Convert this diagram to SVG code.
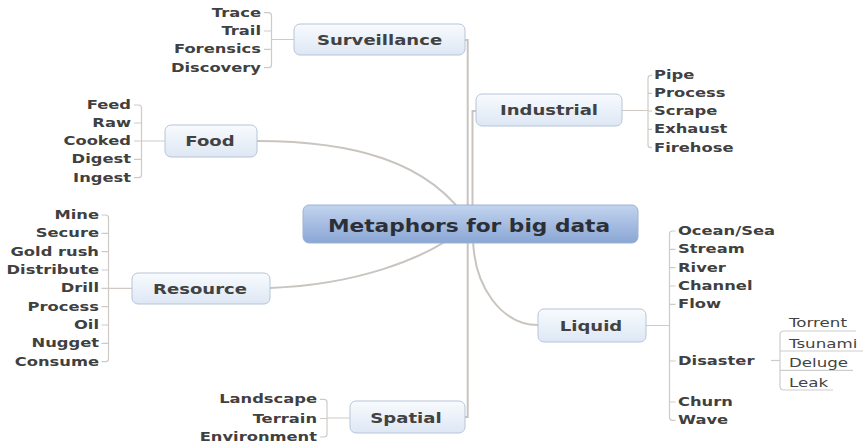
<svg xmlns="http://www.w3.org/2000/svg" width="864" height="442" viewBox="0 0 864 442">
<defs>
<linearGradient id="gNode" x1="0" y1="0" x2="0" y2="1">
<stop offset="0" stop-color="#f8fbfe"/>
<stop offset="1" stop-color="#dde7f4"/>
</linearGradient>
<linearGradient id="gCenter" x1="0" y1="0" x2="0" y2="1">
<stop offset="0" stop-color="#c2d4ee"/>
<stop offset="0.5" stop-color="#a6bde2"/>
<stop offset="1" stop-color="#8aa6d3"/>
</linearGradient>
<style>
.ln{fill:none;stroke:#c9c4bf;stroke-width:2}
.br{fill:none;stroke:#cfcac5;stroke-width:1.2}
.ul{fill:none;stroke:#cdcdcd;stroke-width:1.2}
.nd{fill:url(#gNode);stroke:#b6c5d9;stroke-width:1}
.cn{fill:url(#gCenter);stroke:#9db2d4;stroke-width:1}
.nt{font-family:"DejaVu Sans",Verdana,sans-serif;font-weight:bold;font-size:14px;fill:#424242;text-anchor:middle}
.ct{font-family:"DejaVu Sans",Verdana,sans-serif;font-weight:bold;font-size:17.5px;fill:#2c3036;text-anchor:middle}
.lr{font-family:"DejaVu Sans",Verdana,sans-serif;font-weight:bold;font-size:11.5px;fill:#404040;text-anchor:end}
.ll{font-family:"DejaVu Sans",Verdana,sans-serif;font-weight:bold;font-size:11.5px;fill:#404040;text-anchor:start}
.sl{font-family:"DejaVu Sans",Verdana,sans-serif;font-size:12px;fill:#444;text-anchor:start}
</style>
</defs>
<rect width="864" height="442" fill="#ffffff"/>
<g id="connectors">
<path class="ln" d="M465,40 H467.7 V212"/>
<path class="ln" d="M476,111 H472.5 V212"/>
<path class="ln" d="M465,417 H467.7 V236"/>
<path class="ln" d="M257,141 C350,141 430,160 470,224"/>
<path class="ln" d="M270,288 C350,285 425,262 470,224"/>
<path class="ln" d="M473,236 C473,288 503,325 538,325"/>
<path class="br" d="M264,12.7 H268.5 Q271.5,12.7 271.5,15.7 V64.7 Q271.5,67.7 268.5,67.7 H264 M264,31 H271.5 M264,49.3 H271.5 M271.5,39.5 H294"/>
<path class="br" d="M134,105 H138.5 Q141.5,105 141.5,108 V174.7 Q141.5,177.7 138.5,177.7 H134 M134,123 H141.5 M134,141 H141.5 M134,159.3 H141.5 M141.5,141 H165"/>
<path class="br" d="M101.5,215 H105.5 Q108.5,215 108.5,218 V358.7 Q108.5,361.7 105.5,361.7 H101.5 M101.5,233.3 H108.5 M101.5,251.7 H108.5 M101.5,270 H108.5 M101.5,288.3 H108.5 M101.5,306.7 H108.5 M101.5,325 H108.5 M101.5,343.3 H108.5 M108.5,288.3 H132"/>
<path class="br" d="M320,399.3 H324 Q327,399.3 327,402.3 V434 Q327,437 324,437 H320 M320,418.5 H327 M327,418 H350"/>
<path class="br" d="M652,75.3 H651 Q648,75.3 648,78.3 V144.7 Q648,147.7 651,147.7 H652 M648,93.3 H652 M648,111 H652 M648,129.3 H652 M622,110.5 H648"/>
<path class="br" d="M675.5,231 H672.5 Q669.5,231 669.5,234 V417.3 Q669.5,420.3 672.5,420.3 H675.5 M669.5,249.3 H675.5 M669.5,267.7 H675.5 M669.5,286 H675.5 M669.5,304.3 H675.5 M669.5,361 H675.5 M669.5,402 H675.5 M646,325.5 H669.5"/>
<path class="br" d="M771,360.5 H780"/>
<path class="ul" d="M856,331 H784 Q780,331 780,335 V386 Q780,390 784,390 H833 M780,351 H863 M780,370.3 H853"/>
</g>
<g id="node-center">
<rect class="cn" x="303" y="205" width="335" height="38" rx="6"/>
<text class="ct" transform="translate(469 231.5) scale(1.24 1)">Metaphors for big data</text>
</g>
<g id="node-surveillance">
<rect class="nd" x="294" y="24" width="171" height="31" rx="6"/>
<text class="nt" transform="translate(379.5 45) scale(1.29 1)">Surveillance</text>
</g>
<g id="node-industrial">
<rect class="nd" x="476" y="94" width="146" height="32" rx="6"/>
<text class="nt" transform="translate(549 115.3) scale(1.29 1)">Industrial</text>
</g>
<g id="node-food">
<rect class="nd" x="165" y="125" width="92" height="32" rx="6"/>
<text class="nt" transform="translate(210 146) scale(1.29 1)">Food</text>
</g>
<g id="node-resource">
<rect class="nd" x="132" y="273" width="138" height="31" rx="6"/>
<text class="nt" transform="translate(200 293.5) scale(1.29 1)">Resource</text>
</g>
<g id="node-liquid">
<rect class="nd" x="538" y="309" width="108" height="33" rx="6"/>
<text class="nt" transform="translate(591 330.5) scale(1.29 1)">Liquid</text>
</g>
<g id="node-spatial">
<rect class="nd" x="350" y="401" width="115" height="32" rx="6"/>
<text class="nt" transform="translate(406 422.5) scale(1.29 1)">Spatial</text>
</g>
<g id="leaf-trace"><text class="lr" transform="translate(261 16.7) scale(1.42 1)">Trace</text></g>
<g id="leaf-trail"><text class="lr" transform="translate(261 35) scale(1.42 1)">Trail</text></g>
<g id="leaf-forensics"><text class="lr" transform="translate(261 53.3) scale(1.42 1)">Forensics</text></g>
<g id="leaf-discovery"><text class="lr" transform="translate(261 71.7) scale(1.42 1)">Discovery</text></g>
<g id="leaf-feed"><text class="lr" transform="translate(131 109) scale(1.42 1)">Feed</text></g>
<g id="leaf-raw"><text class="lr" transform="translate(131 127) scale(1.42 1)">Raw</text></g>
<g id="leaf-cooked"><text class="lr" transform="translate(131 145) scale(1.42 1)">Cooked</text></g>
<g id="leaf-digest"><text class="lr" transform="translate(131 163.3) scale(1.42 1)">Digest</text></g>
<g id="leaf-ingest"><text class="lr" transform="translate(131 181.7) scale(1.42 1)">Ingest</text></g>
<g id="leaf-mine"><text class="lr" transform="translate(99 219) scale(1.42 1)">Mine</text></g>
<g id="leaf-secure"><text class="lr" transform="translate(99 237.3) scale(1.42 1)">Secure</text></g>
<g id="leaf-goldrush"><text class="lr" transform="translate(99 255.7) scale(1.42 1)">Gold rush</text></g>
<g id="leaf-distribute"><text class="lr" transform="translate(99 274) scale(1.42 1)">Distribute</text></g>
<g id="leaf-drill"><text class="lr" transform="translate(99 292.3) scale(1.42 1)">Drill</text></g>
<g id="leaf-process-r"><text class="lr" transform="translate(99 310.7) scale(1.42 1)">Process</text></g>
<g id="leaf-oil"><text class="lr" transform="translate(99 329) scale(1.42 1)">Oil</text></g>
<g id="leaf-nugget"><text class="lr" transform="translate(99 347.3) scale(1.42 1)">Nugget</text></g>
<g id="leaf-consume"><text class="lr" transform="translate(99 365.7) scale(1.42 1)">Consume</text></g>
<g id="leaf-landscape"><text class="lr" transform="translate(317 403.3) scale(1.42 1)">Landscape</text></g>
<g id="leaf-terrain"><text class="lr" transform="translate(317 422.5) scale(1.42 1)">Terrain</text></g>
<g id="leaf-environment"><text class="lr" transform="translate(317 441) scale(1.42 1)">Environment</text></g>
<g id="leaf-pipe"><text class="ll" transform="translate(654 79.3) scale(1.42 1)">Pipe</text></g>
<g id="leaf-process-i"><text class="ll" transform="translate(654 97.3) scale(1.42 1)">Process</text></g>
<g id="leaf-scrape"><text class="ll" transform="translate(654 115) scale(1.42 1)">Scrape</text></g>
<g id="leaf-exhaust"><text class="ll" transform="translate(654 133.3) scale(1.42 1)">Exhaust</text></g>
<g id="leaf-firehose"><text class="ll" transform="translate(654 151.7) scale(1.42 1)">Firehose</text></g>
<g id="leaf-ocean"><text class="ll" transform="translate(678 235) scale(1.42 1)">Ocean/Sea</text></g>
<g id="leaf-stream"><text class="ll" transform="translate(678 253.3) scale(1.42 1)">Stream</text></g>
<g id="leaf-river"><text class="ll" transform="translate(678 271.7) scale(1.42 1)">River</text></g>
<g id="leaf-channel"><text class="ll" transform="translate(678 290) scale(1.42 1)">Channel</text></g>
<g id="leaf-flow"><text class="ll" transform="translate(678 308.3) scale(1.42 1)">Flow</text></g>
<g id="leaf-disaster"><text class="ll" transform="translate(678 365) scale(1.42 1)">Disaster</text></g>
<g id="leaf-churn"><text class="ll" transform="translate(678 406) scale(1.42 1)">Churn</text></g>
<g id="leaf-wave"><text class="ll" transform="translate(678 424.3) scale(1.42 1)">Wave</text></g>
<g id="leaf-torrent"><text class="sl" transform="translate(789 326.7) scale(1.39 1)">Torrent</text></g>
<g id="leaf-tsunami"><text class="sl" transform="translate(789 347.7) scale(1.39 1)">Tsunami</text></g>
<g id="leaf-deluge"><text class="sl" transform="translate(789 367) scale(1.39 1)">Deluge</text></g>
<g id="leaf-leak"><text class="sl" transform="translate(789 386.7) scale(1.39 1)">Leak</text></g>
</svg>
